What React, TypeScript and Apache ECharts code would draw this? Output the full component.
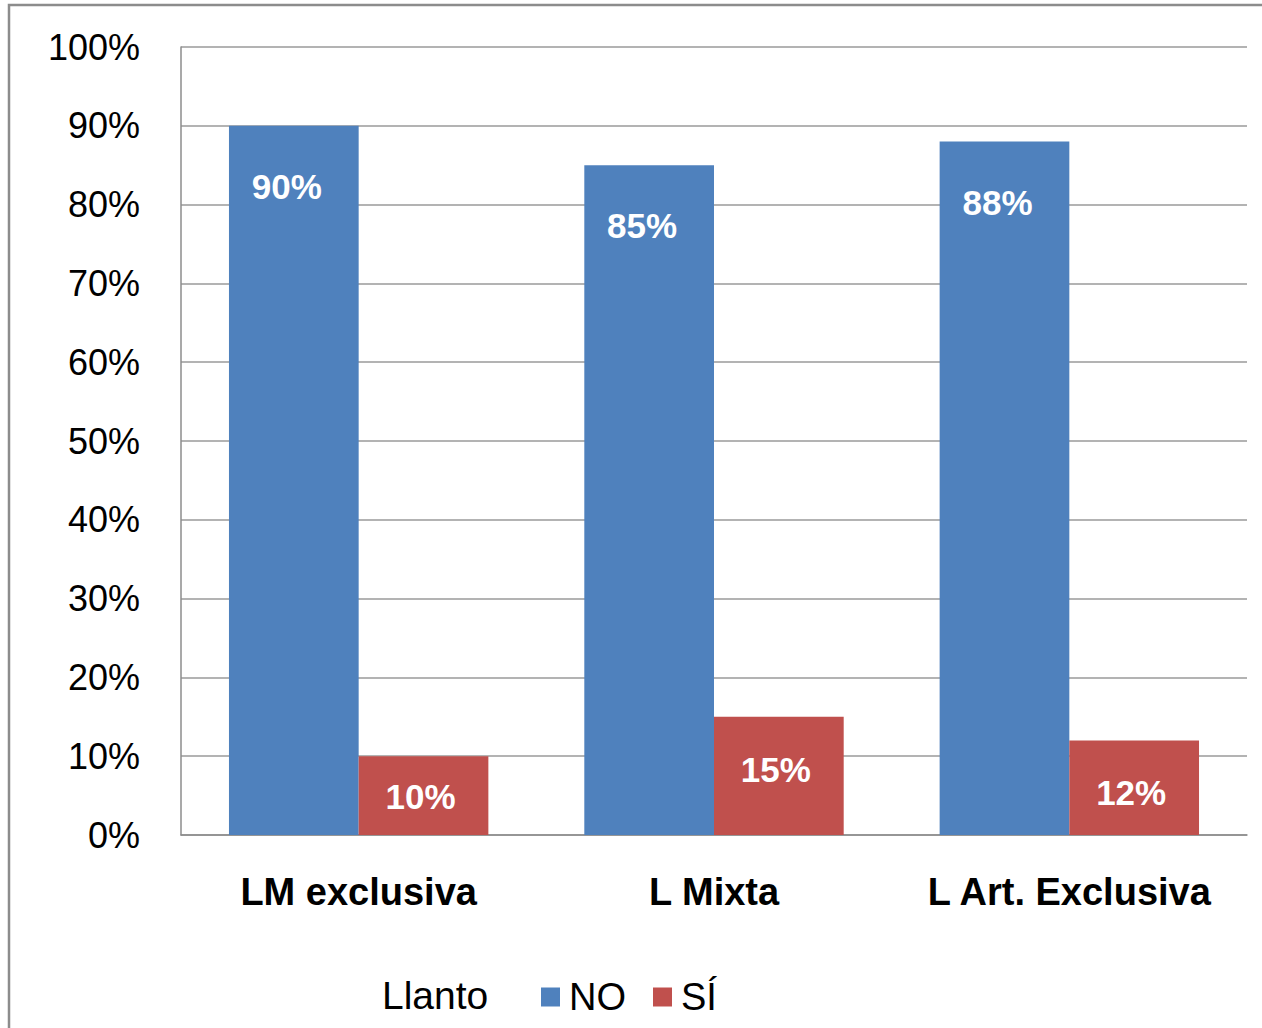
import React, { useEffect, useRef } from "react";
import * as echarts from "echarts";

const categories = ["LM exclusiva", "L Mixta", "L Art. Exclusiva"];
const noValues = [90, 85, 88];
const siValues = [10, 15, 12];
const yTicks = [0, 10, 20, 30, 40, 50, 60, 70, 80, 90, 100];

export default function App() {
  const ref = useRef<HTMLDivElement>(null);
  useEffect(() => {
    const chart = echarts.init(ref.current!, null, { renderer: "svg" });
    const font = "'Liberation Sans', Arial, sans-serif";
    chart.setOption({
      animation: false,
      backgroundColor: "#ffffff",
      textStyle: { fontFamily: font },
      grid: { left: 181, right: 15, top: 47, bottom: 193 },
      graphic: [
        {
          type: "rect",
          shape: { x: 9, y: 5, width: 1300, height: 1100 },
          style: { fill: "none", stroke: "#8c8c8c", lineWidth: 2.5 },
          silent: true,
        },
        {
          type: "text",
          left: 382,
          top: 976,
          style: { text: "Llanto", fontSize: 39, fontFamily: font, fill: "#000" },
        },
      ],
      legend: {
        left: 536,
        top: 973,
        itemWidth: 19,
        itemHeight: 19,
        itemGap: 27,
        icon: "rect",
        textStyle: {
          fontSize: 38,
          fontFamily: font,
          color: "#000",
          padding: [0, 0, 0, 4],
        },
        data: ["NO", "SÍ"],
      },
      xAxis: {
        type: "category",
        data: categories,
        axisLine: { lineStyle: { color: "#8c8c8c", width: 1.5 } },
        axisTick: { show: false },
        axisLabel: {
          interval: 0,
          fontSize: 38,
          fontWeight: "bold",
          color: "#000",
          margin: 38,
          fontFamily: font,
        },
      },
      yAxis: {
        type: "value",
        min: 0,
        max: 100,
        interval: 10,
        axisLine: { show: true, lineStyle: { color: "#8c8c8c", width: 1.5 } },
        splitLine: { lineStyle: { color: "#9a9a9a", width: 1.5 } },
        axisLabel: {
          fontSize: 36,
          color: "#000",
          margin: 41,
          fontFamily: font,
          formatter: (v: number) => (yTicks.includes(v) ? v + "%" : ""),
        },
      },
      series: [
        {
          name: "NO",
          type: "bar",
          data: noValues,
          barGap: "0%",
          barCategoryGap: "27%",
          itemStyle: { color: "#4f81bd" },
          label: {
            show: true,
            position: "insideTop",
            distance: 43,
            offset: [-7, 0],
            color: "#fff",
            fontSize: 35,
            fontWeight: "bold",
            fontFamily: font,
            formatter: (p: any) => p.value + "%",
          },
        },
        {
          name: "SÍ",
          type: "bar",
          data: siValues.map((v, i) =>
            i === 0 ? { value: v, label: { distance: 23 } } : v
          ),
          barGap: "0%",
          barCategoryGap: "27%",
          itemStyle: { color: "#c0504d" },
          label: {
            show: true,
            position: "insideTop",
            distance: 35,
            offset: [-3, 0],
            color: "#fff",
            fontSize: 35,
            fontWeight: "bold",
            fontFamily: font,
            formatter: (p: any) => p.value + "%",
          },
        },
      ],
    });
    return () => chart.dispose();
  }, []);
  return (
    <div
      ref={ref}
      style={{ position: "absolute", left: 0, top: 0, width: 1262, height: 1028 }}
    />
  );
}
